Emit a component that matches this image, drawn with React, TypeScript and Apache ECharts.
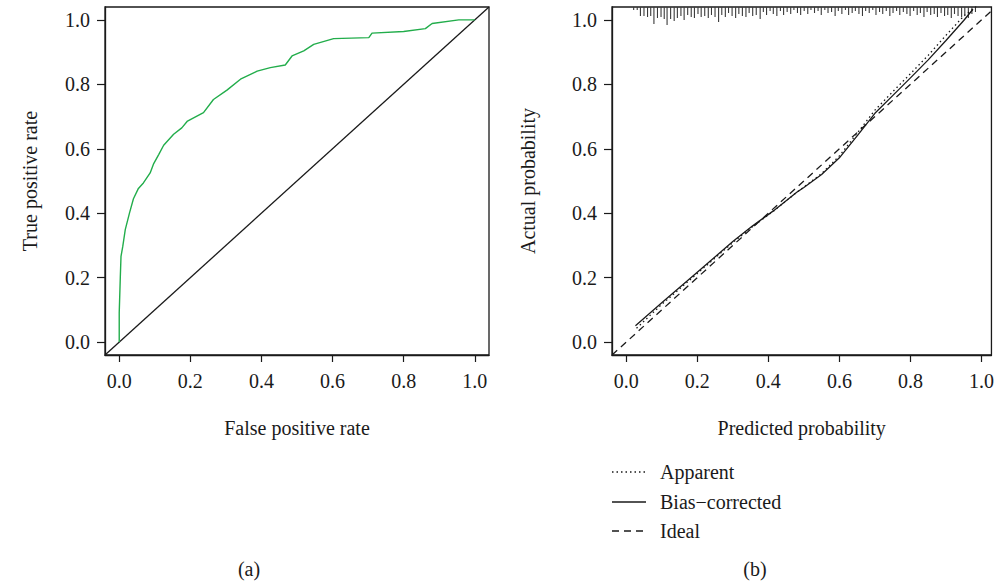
import React, { useEffect, useRef } from "react";
import * as echarts from "echarts";

// ROC curve (false positive rate, true positive rate)
const rocPoints: [number, number][] = [
  [0, 0], [0, 0.09], [0.003, 0.2], [0.005, 0.266], [0.01, 0.297], [0.017, 0.349],
  [0.029, 0.401], [0.04, 0.445], [0.054, 0.477], [0.068, 0.494], [0.087, 0.525],
  [0.097, 0.554], [0.111, 0.582], [0.125, 0.611], [0.153, 0.645], [0.176, 0.665],
  [0.192, 0.686], [0.237, 0.712], [0.265, 0.753], [0.303, 0.782], [0.341, 0.816],
  [0.388, 0.841], [0.425, 0.852], [0.467, 0.86], [0.486, 0.888], [0.519, 0.904],
  [0.547, 0.924], [0.603, 0.942], [0.702, 0.945], [0.711, 0.959], [0.8, 0.964],
  [0.861, 0.973], [0.88, 0.989], [0.955, 1], [1, 1],
];
const rocDiagonal: [number, number][] = [[-0.04, -0.04], [1.04, 1.04]];

// Calibration curves (predicted, actual)
const apparent: [number, number][] = [
  [0.029, 0.043], [0.1, 0.117], [0.2, 0.213], [0.3, 0.309], [0.355, 0.358],
  [0.415, 0.407], [0.48, 0.465], [0.5, 0.481], [0.55, 0.523], [0.6, 0.578],
  [0.65, 0.648], [0.7, 0.72], [0.75, 0.777], [0.8, 0.833], [0.85, 0.89],
  [0.9, 0.952], [0.95, 1.012], [0.986, 1.042],
];
const biasCorrected: [number, number][] = [
  [0.026, 0.051], [0.1, 0.122], [0.2, 0.217], [0.3, 0.312], [0.355, 0.36],
  [0.415, 0.408], [0.48, 0.465], [0.5, 0.48], [0.55, 0.52], [0.6, 0.572],
  [0.65, 0.64], [0.7, 0.71], [0.75, 0.765], [0.8, 0.82], [0.85, 0.876],
  [0.9, 0.936], [0.95, 0.998], [0.976, 1.033],
];
const ideal: [number, number][] = [[-0.04, -0.04], [1.04, 1.04]];

// Distribution of predicted probabilities (rug at top): [position, frequency]
const rugBins: [number, number][] = [
  [0.021, 3], [0.031, 3], [0.04, 9], [0.05, 9], [0.06, 10], [0.069, 9], [0.078, 17],
  [0.088, 11], [0.098, 10], [0.107, 12], [0.115, 18], [0.125, 12], [0.135, 14],
  [0.144, 11], [0.154, 9], [0.163, 13], [0.173, 8], [0.183, 10], [0.192, 11],
  [0.202, 7], [0.211, 10], [0.221, 9], [0.231, 11], [0.24, 8], [0.25, 10], [0.26, 15],
  [0.269, 8], [0.279, 10], [0.288, 6], [0.298, 9], [0.308, 11], [0.317, 7], [0.327, 9],
  [0.337, 10], [0.346, 6], [0.356, 9], [0.366, 8], [0.377, 12], [0.386, 5], [0.395, 8],
  [0.405, 4], [0.414, 7], [0.424, 9], [0.434, 4], [0.443, 8], [0.453, 5], [0.463, 7],
  [0.472, 3], [0.482, 6], [0.491, 8], [0.501, 4], [0.511, 7], [0.52, 3], [0.53, 6],
  [0.54, 4], [0.549, 8], [0.559, 3], [0.568, 6], [0.578, 5], [0.588, 9], [0.597, 4],
  [0.607, 7], [0.617, 3], [0.626, 8], [0.636, 6], [0.645, 4], [0.655, 7], [0.665, 9],
  [0.674, 4], [0.684, 6], [0.694, 3], [0.703, 8], [0.713, 5], [0.722, 7], [0.732, 4],
  [0.742, 9], [0.751, 6], [0.761, 4], [0.77, 8], [0.78, 5], [0.79, 7], [0.799, 9],
  [0.809, 4], [0.819, 8], [0.828, 6], [0.838, 10], [0.847, 5], [0.857, 8], [0.867, 7],
  [0.876, 10], [0.886, 6], [0.896, 9], [0.905, 8], [0.915, 11], [0.924, 7], [0.934, 9],
  [0.944, 10], [0.953, 8], [0.963, 11], [0.973, 7], [0.983, 5],
];

const tickValues = [0, 0.2, 0.4, 0.6, 0.8, 1.0];
const legendNames = ["Apparent", "Bias\u2212corrected", "Ideal"];
const panelLabels = ["(a)", "(b)"];
const axisTitles = {
  rocX: "False positive rate",
  rocY: "True positive rate",
  calX: "Predicted probability",
  calY: "Actual probability",
};

const FONT = "'Liberation Serif', 'DejaVu Serif', serif";
const INK = "#1a1a1a";

function xAxis(gridIndex: number, max: number, name: string) {
  return {
    gridIndex,
    type: "value" as const,
    position: "bottom" as const,
    min: -0.04,
    max,
    name,
    nameLocation: "middle" as const,
    nameGap: 63,
    nameTextStyle: { fontFamily: FONT, fontSize: 20, color: INK },
    axisLine: { show: true, onZero: false, lineStyle: { color: INK, width: 1.3 } },
    splitLine: { show: false },
    axisTick: {
      show: true,
      inside: false,
      length: 7,
      customValues: tickValues,
      lineStyle: { color: INK, width: 1.2 },
    },
    axisLabel: {
      customValues: tickValues,
      formatter: (v: number) => v.toFixed(1),
      fontFamily: FONT,
      fontSize: 20,
      color: INK,
      margin: 16,
    },
  };
}

function yAxis(gridIndex: number, name: string, gap: number) {
  return {
    gridIndex,
    type: "value" as const,
    position: "left" as const,
    min: -0.04,
    max: 1.04,
    name,
    nameLocation: "middle" as const,
    nameGap: gap,
    nameTextStyle: { fontFamily: FONT, fontSize: 20, color: INK },
    axisLine: { show: true, onZero: false, lineStyle: { color: INK, width: 1.3 } },
    splitLine: { show: false },
    axisTick: {
      show: true,
      inside: false,
      length: 8,
      customValues: tickValues,
      lineStyle: { color: INK, width: 1.2 },
    },
    axisLabel: {
      customValues: tickValues,
      formatter: (v: number) => v.toFixed(1),
      fontFamily: FONT,
      fontSize: 20,
      color: INK,
      margin: 15,
    },
  };
}

export default function App() {
  const ref = useRef<HTMLDivElement>(null);

  useEffect(() => {
    document.body.style.margin = "0";
    if (!ref.current) return;
    const chart = echarts.init(ref.current, null, { renderer: "svg" });

    const legendY = [472, 502, 531];
    const legendDash: (number[] | null)[] = [[1.5, 3], null, [7, 5]];

    const legendGraphics: any[] = [];
    legendNames.forEach((n, i) => {
      legendGraphics.push({
        type: "line",
        shape: { x1: 612, y1: legendY[i], x2: 646, y2: legendY[i] },
        style: {
          stroke: INK,
          lineWidth: 1.3,
          lineDash: legendDash[i] || undefined,
        },
      });
      legendGraphics.push({
        type: "text",
        x: 660,
        y: legendY[i],
        style: {
          text: n,
          fontFamily: FONT,
          fontSize: 20,
          fill: INK,
          verticalAlign: "middle",
          align: "left",
        },
      });
    });

    const panelX = [249, 755];
    panelLabels.forEach((t, i) => {
      legendGraphics.push({
        type: "text",
        x: panelX[i],
        y: 569,
        style: {
          text: t,
          fontFamily: FONT,
          fontSize: 20,
          fill: INK,
          align: "center",
          verticalAlign: "middle",
        },
      });
    });

    chart.setOption({
      animation: false,
      backgroundColor: "#fff",
      grid: [
        {
          left: 105, top: 7, width: 384, height: 348,
          show: true, borderColor: INK, borderWidth: 1.3,
          backgroundColor: "transparent",
        },
        {
          left: 612, top: 7, width: 380, height: 348,
          show: true, borderColor: INK, borderWidth: 1.3,
          backgroundColor: "transparent",
        },
      ],
      xAxis: [
        xAxis(0, 1.04, axisTitles.rocX),
        xAxis(1, 1.028, axisTitles.calX),
      ],
      yAxis: [
        yAxis(0, axisTitles.rocY, 65),
        yAxis(1, axisTitles.calY, 74),
      ],
      graphic: legendGraphics,
      series: [
        {
          type: "line",
          xAxisIndex: 0,
          yAxisIndex: 0,
          data: rocDiagonal,
          showSymbol: false,
          lineStyle: { color: INK, width: 1.3 },
        },
        {
          type: "line",
          xAxisIndex: 0,
          yAxisIndex: 0,
          data: rocPoints,
          showSymbol: false,
          lineStyle: { color: "#22ad4b", width: 1.4 },
        },
        {
          name: legendNames[2],
          type: "line",
          xAxisIndex: 1,
          yAxisIndex: 1,
          data: ideal,
          showSymbol: false,
          lineStyle: { color: INK, width: 1.3, type: [7, 5] },
        },
        {
          name: legendNames[1],
          type: "line",
          xAxisIndex: 1,
          yAxisIndex: 1,
          data: biasCorrected,
          showSymbol: false,
          lineStyle: { color: INK, width: 1.3 },
        },
        {
          name: legendNames[0],
          type: "line",
          xAxisIndex: 1,
          yAxisIndex: 1,
          data: apparent,
          showSymbol: false,
          lineStyle: { color: INK, width: 1.3, type: [1.5, 3] },
        },
        {
          type: "custom",
          xAxisIndex: 1,
          yAxisIndex: 1,
          data: rugBins,
          clip: true,
          renderItem: (_params: any, api: any) => {
            const x = api.value(0);
            const f = api.value(1);
            const p = api.coord([x, 1.04]);
            return {
              type: "line",
              shape: { x1: p[0], y1: p[1], x2: p[0], y2: p[1] + f },
              style: { stroke: "#3a3a3a", lineWidth: 1.1 },
            };
          },
        },
      ],
    });

    return () => {
      chart.dispose();
    };
  }, []);

  return <div ref={ref} style={{ width: 997, height: 586 }} />;
}
